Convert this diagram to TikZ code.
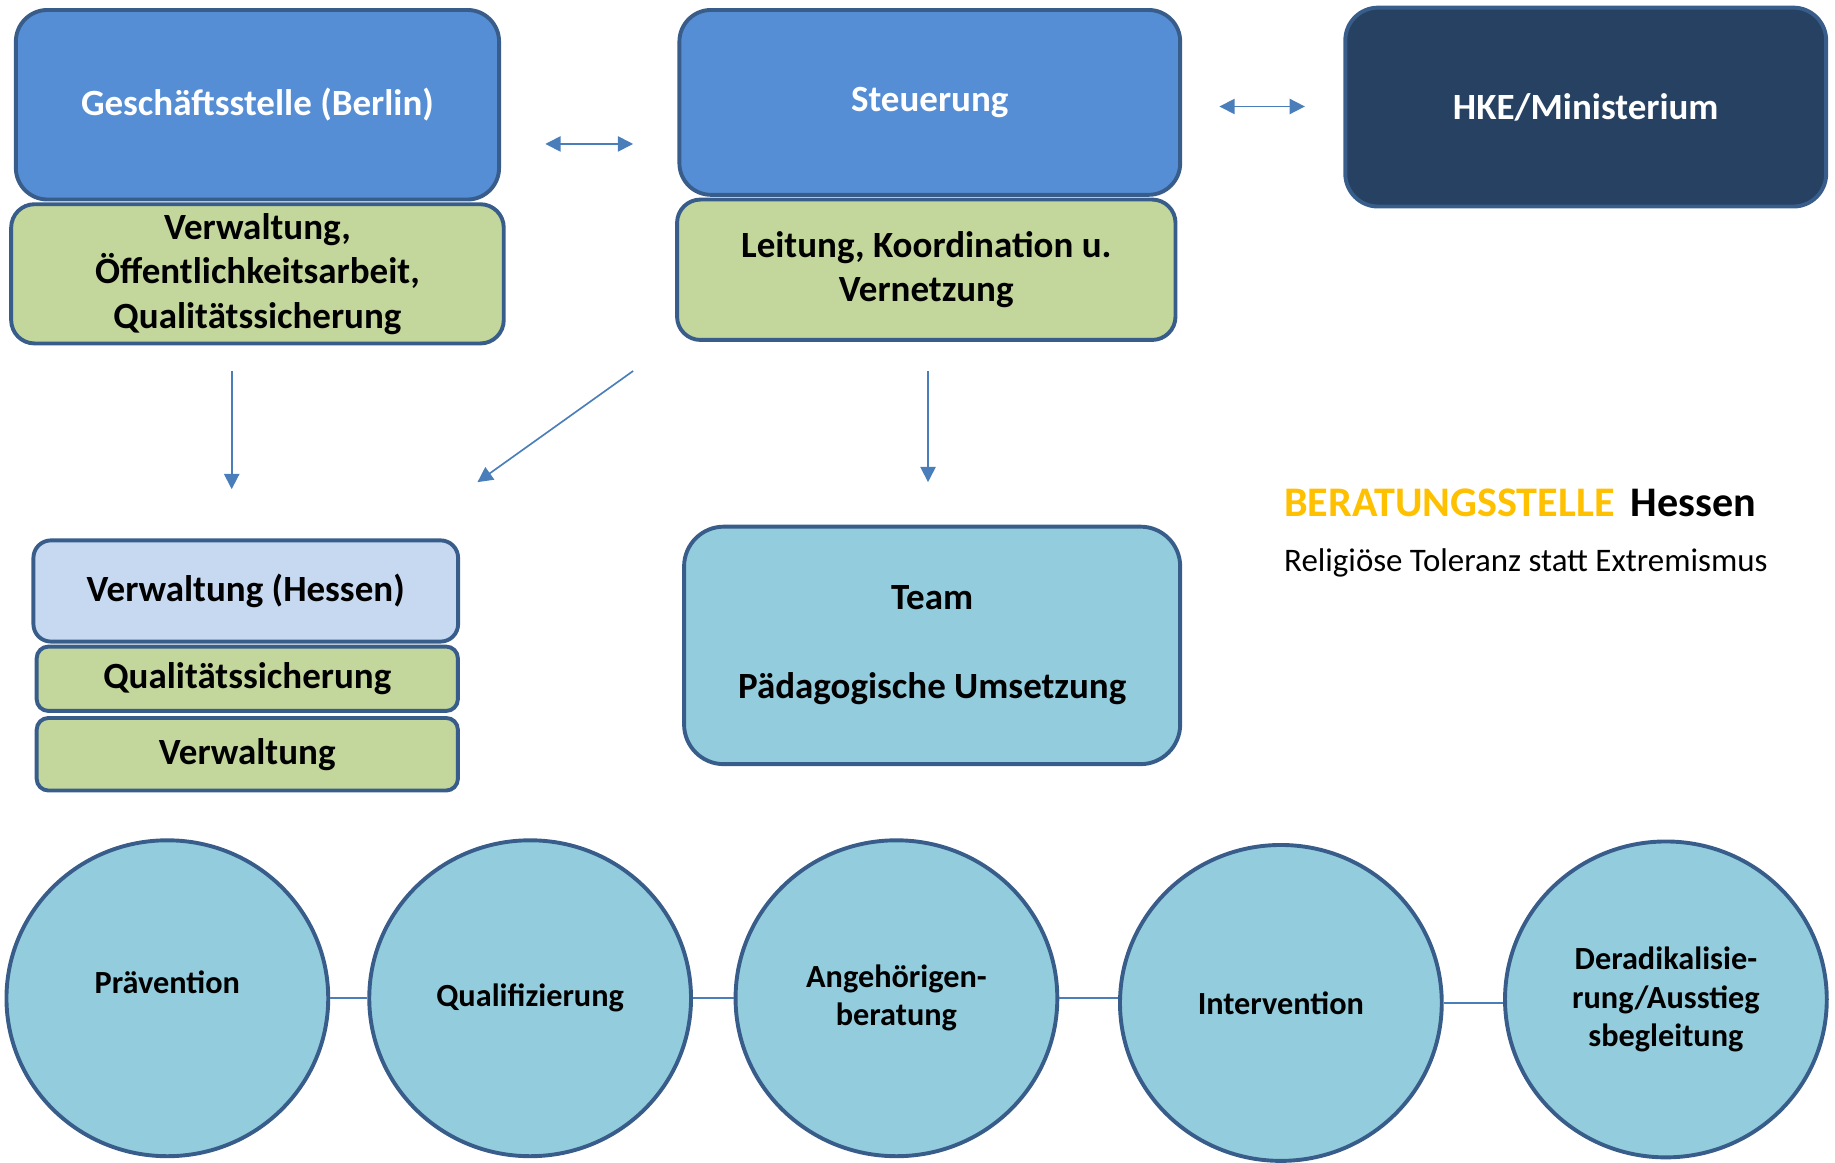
\documentclass[tikz,border=0pt]{standalone}
\usepackage{fontspec}
\setmainfont{Carlito}
\usetikzlibrary{arrows.meta,shapes.geometric}

\definecolor{boxblue}{HTML}{558ED5}
\definecolor{boxline}{HTML}{385D8A}
\definecolor{boxgreen}{HTML}{C3D69B}
\definecolor{paleblue}{HTML}{C6D9F1}
\definecolor{aqua}{HTML}{93CDDD}
\definecolor{navy}{HTML}{264162}
\definecolor{arrowblue}{HTML}{4A7EBB}
\definecolor{logoorange}{HTML}{FFC000}

\tikzset{
  orgbox/.style={draw=boxline, line width=1.9pt, align=center, inner sep=0pt, font=\bfseries\fontsize{18}{21.6}\selectfont},
  bluebox/.style={orgbox, fill=boxblue, text=white},
  greenbox/.style={orgbox, fill=boxgreen},
  fieldnode/.style={ellipse, draw=boxline, line width=1.9pt, fill=aqua, align=center, inner sep=0pt, minimum width=5.5cm, minimum height=5.4cm, font=\bfseries\fontsize{15.7}{18.6}\selectfont},
  arr/.style={draw=arrowblue, line width=0.8pt, -{Triangle[length=0.26cm,width=0.26cm]}},
  dblarr/.style={draw=arrowblue, line width=0.8pt, {Triangle[length=0.26cm,width=0.26cm]}-{Triangle[length=0.26cm,width=0.26cm]}},
  link/.style={draw=arrowblue, line width=0.9pt},
}

\begin{document}
\begin{tikzpicture}[x=0.02cm, y=-0.02cm]
\useasboundingbox (0,0) rectangle (1568,993);
% Geschaeftsstelle (Berlin)
\node[bluebox, minimum width=8.26cm, minimum height=3.24cm, rounded corners=0.54cm] (gs) at (220,89.5) {Geschäftsstelle (Berlin)};
\node[greenbox, minimum width=8.42cm, minimum height=2.38cm, rounded corners=0.4cm] (gsv) at (220,234) {Verwaltung,\\Öffentlichkeitsarbeit,\\Qualitätssicherung};
% Steuerung
\node[bluebox, minimum width=8.56cm, minimum height=3.16cm, rounded corners=0.54cm] (st) at (794.5,87.5) {Steuerung};
\node[greenbox, minimum width=8.52cm, minimum height=2.4cm, rounded corners=0.4cm] (stv) at (791.5,230.5) {Leitung, Koordination u.\\Vernetzung};
% HKE/Ministerium
\node[orgbox, fill=navy, text=white, minimum width=8.22cm, minimum height=3.4cm, rounded corners=0.56cm] (hke) at (1355,91.5) {HKE/Ministerium};
% Verwaltung (Hessen)
\node[orgbox, fill=paleblue, minimum width=7.26cm, minimum height=1.73cm, rounded corners=0.3cm] (vh) at (210,505) {Verwaltung (Hessen)};
\node[greenbox, minimum width=7.2cm, minimum height=1.1cm, rounded corners=0.2cm] (vq) at (211.3,580) {Qualitätssicherung};
\node[greenbox, minimum width=7.2cm, minimum height=1.24cm, rounded corners=0.2cm] (vw) at (211.3,644.5) {Verwaltung};
% Team
\node[orgbox, fill=aqua, minimum width=8.48cm, minimum height=4.06cm, rounded corners=0.68cm] (team) at (796.5,551.5) {Team\\[0.76cm]Pädagogische Umsetzung};
% Logo text
\node[anchor=base west, inner sep=0pt, font=\bfseries\fontsize{20.5}{24}\selectfont] (logotitle) at (1097,441.5) {\textcolor{logoorange}{BERATUNGSSTELLE}\hspace{0.28cm}Hessen};
\node[anchor=base west, inner sep=0pt, font=\fontsize{16}{19}\selectfont] (logosub) at (1097,488.5) {Religiöse Toleranz statt Extremismus};
% Arbeitsfelder
\node[fieldnode, text depth=0.56cm] (e1) at (143,853) {Prävention};
\node[fieldnode] (e2) at (453,853) {Qualifizierung};
\node[fieldnode] (e3) at (766,853) {Angehörigen-\\beratung};
\node[fieldnode] (e4) at (1094.5,857) {Intervention};
\node[fieldnode] (e5) at (1423.5,854) {Deradikalisie-\\rung/Ausstieg\\sbegleitung};
% Pfeilenden
\coordinate (gsR) at (466,123);
\coordinate (stL) at (541,123);
\coordinate (stR) at (1042,91);
\coordinate (hkeL) at (1115,91);
\coordinate (gsOut) at (198,317);
\coordinate (vhIn) at (198,418);
\coordinate (stOut) at (541,317);
\coordinate (vhIn2) at (408,412);
\coordinate (stDown) at (793,317);
\coordinate (teamIn) at (793,412);
% Pfeile
\draw[dblarr] (gsR) -- (stL);
\draw[dblarr] (stR) -- (hkeL);
\draw[arr] (gsOut) -- (vhIn);
\draw[arr] (stOut) -- (vhIn2);
\draw[arr] (stDown) -- (teamIn);
% Verbindungen der Felder
\draw[link] (e1) -- (e2);
\draw[link] (e2) -- (e3);
\draw[link] (e3) -- (e3 -| e4.west);
\draw[link] (e4) -- (e4 -| e5.west);
\end{tikzpicture}
\end{document}
